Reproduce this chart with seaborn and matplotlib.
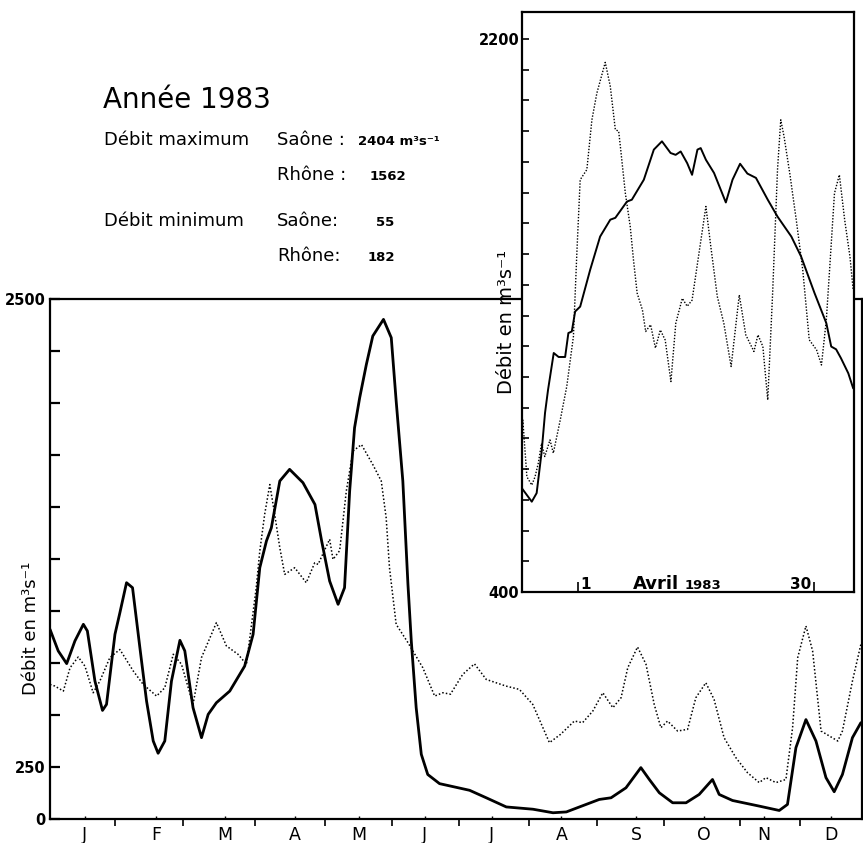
import numpy as np
import pandas as pd
import matplotlib
matplotlib.use("Agg")
import matplotlib.pyplot as plt
import matplotlib.transforms as mtransforms
import seaborn as sns

# ---------------- data ----------------
# main chart: x = day of year (0 = 1 Jan), y = discharge m3/s
saone_day = [0, 3.7, 7.5, 11.2, 15, 16.8, 20.2, 23.6, 25.4, 29.2, 31.4, 34.4, 37.1, 40.4, 43.4,
             46.4, 48.6, 51.6, 54.6, 58.4, 60.6, 64.3, 68.1, 71.1, 74.8, 80.8, 87.5, 91.3, 94.3,
             97.3, 99.5, 103.3, 107.7, 113.7, 119.1, 122.1, 125.7, 129.5, 132.4, 134.7, 136.9,
             139.2, 142.2, 145.1, 149.9, 153.4, 155.6, 158.6, 160.9, 162.4, 164.6, 166.9, 169.8,
             175.1, 188.6, 196.1, 205.1, 217.1, 226.1, 232.1, 238, 246.9, 252.2, 258.9, 265.6,
             269.4, 273.9, 279.9, 285.9, 291.8, 297.8, 300.8, 306.8, 318.8, 327.8, 331.5, 335.3,
             339.8, 344.3, 348.8, 352.5, 356.2, 360.7, 364.5]
saone_q = [912, 808, 747, 856, 936, 904, 663, 522, 551, 888, 991, 1136, 1112, 824, 567,
           375, 316, 375, 663, 859, 808, 535, 391, 503, 559, 615, 735, 888, 1208,
           1337, 1400, 1625, 1681, 1617, 1512, 1337, 1144, 1032, 1112, 1577, 1881,
           2025, 2185, 2322, 2402, 2314, 2010, 1625, 1128, 856, 535, 311, 214,
           170, 138, 102, 58, 47, 30, 34, 58, 94, 102, 150, 247,
           190, 126, 78, 78, 118, 190, 118, 89, 62, 41, 70, 343,
           478, 375, 199, 131, 214, 391, 463]

rhone_day = [0, 2.2, 6, 9, 12.7, 15.7, 19.4, 22.4, 26.9, 31.4, 37.4, 41.9, 47.9, 51.6, 55.4,
             59.1, 64.3, 68.1, 74.8, 79.3, 84.5, 88.3, 92.7, 94.3, 96.5, 98.8, 101, 103.3, 105.5,
             110, 115.2, 119, 120.5, 125.7, 127.2, 130.2, 133.2, 136.2, 140, 145.1, 148.9, 151.1,
             152.6, 155.6, 160.9, 167.6, 172.9, 176.6, 180, 185.5, 190.8, 196.1, 205, 211, 217,
             224.5, 229.5, 235.7, 239.4, 244, 248.5, 253, 256.7, 259.7, 264.1, 267.9, 271.6,
             274.6, 277.6, 282.1, 286.6, 290.3, 294.8, 298.5, 303, 308.3, 313.5, 318.8, 321.8,
             326.3, 330.8, 333.8, 336.1, 339.8, 342.8, 346.6, 354.1, 356.2, 360.7, 364.5]
rhone_q = [647, 639, 615, 727, 779, 735, 607, 663, 776, 815, 712, 647, 591, 631, 792,
           744, 551, 776, 944, 832, 792, 744, 1112, 1288, 1465, 1608, 1465, 1304, 1176,
           1208, 1136, 1232, 1224, 1345, 1248, 1290, 1577, 1769, 1800, 1704, 1625, 1449,
           1208, 936, 848, 727, 591, 607, 600, 695, 746, 671, 639, 623, 551,
           367, 407, 471, 463, 519, 607, 535, 583, 727, 827, 744, 551,
           439, 471, 423, 431, 583, 655, 575, 391, 295, 223, 175, 199,
           175, 190, 439, 776, 928, 808, 423, 375, 423, 663, 840]

# inset: x = day of April 1983 (negative = end of March), y = m3/s
in_saone_day = [-5.95, -4.7, -4.1, -3.5, -3.07, -2.7, -2.0, -1.4, -0.6, -0.2, 0.22, 0.63, 1.25,
                2.48, 3.7, 4.95, 5.57, 7.0, 7.6, 9.07, 10.3, 11.3, 12.36, 12.98, 13.6, 14.4, 15.0,
                15.66, 16.06, 16.7, 17.7, 19.15, 19.97, 20.9, 21.8, 22.85, 24.3, 25.5, 27.2,
                28.4, 30.05, 31.5, 32.1, 32.7, 33.3, 34.2, 34.8]
in_saone_q = [739, 694, 722, 853, 983, 1058, 1178, 1165, 1165, 1243, 1248, 1313, 1329,
              1449, 1557, 1612, 1618, 1671, 1677, 1742, 1840, 1867, 1829, 1823, 1834, 1796, 1758,
              1840, 1845, 1807, 1764, 1668, 1742, 1794, 1762, 1748, 1677, 1622, 1557,
              1492, 1373, 1275, 1199, 1190, 1161, 1112, 1063]

in_rhone_day = [-5.9, -5.8, -5.3, -4.7, -4.3, -3.9, -3.5, -3.1, -2.46, -2.05, -1.2, -0.4, 0.42,
                0.84, 1.25, 2.07, 2.69, 3.3, 4.33, 4.95, 5.57, 5.98, 6.19, 6.8, 7.4, 7.8, 8.25,
                8.9, 9.3, 9.9, 10.5, 11.1, 11.7, 12.4, 13.0, 13.8, 14.4, 15.0, 15.85, 16.7, 17.3,
                18.1, 18.9, 19.8, 20.8, 21.6, 22.6, 23.1, 23.7, 24.3, 24.9, 25.5, 25.9, 26.3,
                27.0, 27.8, 28.6, 29.4, 30.3, 30.9, 31.5, 31.9, 32.5, 33.1, 33.75, 34.4, 34.8]
in_rhone_q = [900, 960, 775, 748, 775, 819, 884, 841, 895, 852, 960, 1069, 1232,
              1503, 1742, 1775, 1937, 2024, 2124, 2046, 1905, 1900, 1850, 1698, 1590, 1481, 1373,
              1318, 1248, 1270, 1194, 1253, 1220, 1085, 1275, 1356, 1330, 1350, 1503, 1655, 1525,
              1362, 1275, 1134, 1367, 1237, 1183, 1237, 1199, 1025, 1373, 1775, 1937, 1883,
              1764, 1612, 1449, 1221, 1188, 1139, 1286, 1449, 1698, 1758, 1612, 1492, 1383]

month_labels = ["J", "F", "M", "A", "M", "J", "J", "A", "S", "O", "N", "D"]
month_label_pos = [15.7, 47.6, 78.6, 110, 139, 168.4, 198.5, 229.9, 263.6, 294, 321, 351]
month_bounds = [29.2, 59.7, 92, 123.5, 153.6, 184, 215.5, 246, 276, 310, 337]

main_yticks = list(range(0, 2501, 250))
main_ylabels = {0: "0", 250: "250", 2500: "2500"}
inset_yticks = list(range(400, 2201, 100))
inset_ylabels = {400: "400", 2200: "2200"}

# ---------------- figure ----------------
sns.set_style("white")
plt.rcParams['font.family'] = ['DejaVu Sans']
plt.rcParams.update({"text.color": "black", "axes.labelcolor": "black",
                     "xtick.color": "black", "ytick.color": "black"})

W, H = 863, 843
fig = plt.figure(figsize=(W / 100, H / 100), dpi=100)
fig.patch.set_facecolor("white")

def fx(px):
    return px / W

def fy(py):
    return 1 - py / H

ax = fig.add_axes([fx(50), fy(819), fx(862) - fx(50), fy(299) - fy(819)])
main_s = pd.DataFrame({"day": saone_day, "q": saone_q})
main_r = pd.DataFrame({"day": rhone_day, "q": rhone_q})
sns.lineplot(data=main_r, x="day", y="q", ax=ax, color="black", lw=1.1,
             linestyle=(0, (1, 1.4)), sort=False, estimator=None)
sns.lineplot(data=main_s, x="day", y="q", ax=ax, color="black", lw=2.0,
             sort=False, estimator=None)
ax.set_xlim(0, 365)
ax.set_ylim(0, 2500)
ax.set_xlabel("")
ax.set_ylabel("")
for sp in ax.spines.values():
    sp.set_color("black")
    sp.set_linewidth(1.6)

ax.set_yticks(main_yticks)
ax.set_yticklabels([main_ylabels.get(v, "") for v in main_yticks],
                   fontsize=10.5, fontweight="bold")
ax.tick_params(axis="y", left=True, direction="in", length=7, width=1.6, pad=3)
ax.set_xticks(month_label_pos)
ax.set_xticklabels(month_labels, fontsize=12.5)
ax.set_xticks(month_bounds, minor=True)
ax.tick_params(axis="x", which="major", bottom=True, direction="in", length=2,
               width=1, pad=5)
ax.tick_params(axis="x", which="minor", bottom=True, direction="out", length=5,
               width=1.2)

fig.text(fx(31), fy(628), "Débit en m³s⁻¹", rotation=90, ha="center", va="center",
         fontsize=13)

# ---------------- inset ----------------
ins = fig.add_axes([fx(522), fy(592), fx(854) - fx(522), fy(12) - fy(592)], zorder=5)
ins.set_facecolor("white")
in_s = pd.DataFrame({"day": in_saone_day, "q": in_saone_q})
in_r = pd.DataFrame({"day": in_rhone_day, "q": in_rhone_q})
sns.lineplot(data=in_r, x="day", y="q", ax=ins, color="black", lw=1.0,
             linestyle=(0, (1, 1.2)), sort=False, estimator=None)
sns.lineplot(data=in_s, x="day", y="q", ax=ins, color="black", lw=1.4,
             sort=False, estimator=None)
ins.set_xlim(-5.9, 34.9)
ins.set_ylim(400, 2288)
ins.set_xlabel("")
ins.set_ylabel("")
for sp in ins.spines.values():
    sp.set_color("black")
    sp.set_linewidth(1.6)
ins.set_yticks(inset_yticks)
ins.set_yticklabels([inset_ylabels.get(v, "") for v in inset_yticks],
                    fontsize=10.5, fontweight="bold")
ins.tick_params(axis="y", left=True, direction="in", length=5, width=1.2, pad=2)
ins.set_xticks([1, 30])
ins.set_xticklabels(["", ""])
ins.tick_params(axis="x", bottom=True, direction="in", length=7, width=1.2)

tr = mtransforms.blended_transform_factory(ins.transData, ins.transAxes)
ins.text(1.25, 0.006, "1", transform=tr, ha="left", va="baseline", fontsize=11,
         fontweight="bold")
ins.text(29.6, 0.006, "30", transform=tr, ha="right", va="baseline", fontsize=11,
         fontweight="bold")
ins.text(7.7, 0.006, "Avril", transform=tr, ha="left", va="baseline", fontsize=13,
         fontweight="bold")
ins.text(14.1, 0.006, "1983", transform=tr, ha="left", va="baseline", fontsize=9.5,
         fontweight="bold")

fig.text(fx(506), fy(322), "Débit en m³s⁻¹", rotation=90, ha="center", va="center",
         fontsize=14, zorder=6)

# ---------------- annotation block ----------------
fig.text(fx(103), fy(108), "Année 1983", fontsize=20, ha="left", va="baseline")
fig.text(fx(104), fy(145), "Débit maximum", fontsize=13, ha="left", va="baseline")
fig.text(fx(277), fy(145), "Saône :", fontsize=13, ha="left", va="baseline")
fig.text(fx(358), fy(145), "2404 m³s⁻¹", fontsize=9.5, ha="left", va="baseline",
         fontweight="bold")
fig.text(fx(277), fy(180), "Rhône :", fontsize=13, ha="left", va="baseline")
fig.text(fx(370), fy(180), "1562", fontsize=9.5, ha="left", va="baseline",
         fontweight="bold")
fig.text(fx(104), fy(226), "Débit minimum", fontsize=13, ha="left", va="baseline")
fig.text(fx(277), fy(226), "Saône:", fontsize=13, ha="left", va="baseline")
fig.text(fx(376), fy(226), "55", fontsize=9.5, ha="left", va="baseline",
         fontweight="bold")
fig.text(fx(277), fy(261), "Rhône:", fontsize=13, ha="left", va="baseline")
fig.text(fx(368), fy(261), "182", fontsize=9.5, ha="left", va="baseline",
         fontweight="bold")

fig.savefig("out.png", dpi=100, facecolor="white")
